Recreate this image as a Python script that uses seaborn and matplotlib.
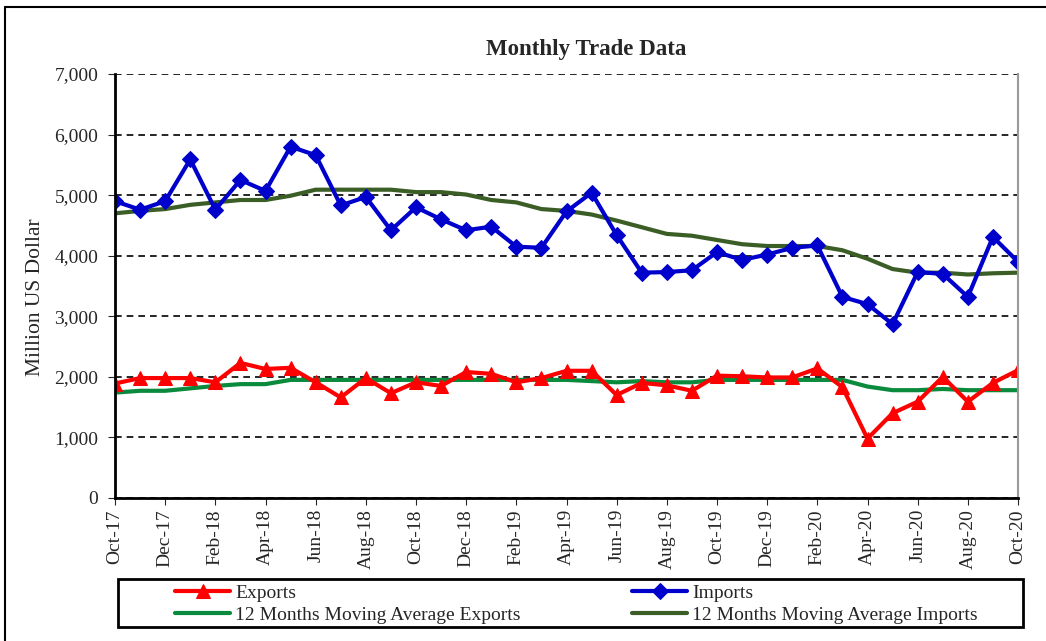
import numpy as np
import pandas as pd
import seaborn as sns
import matplotlib
matplotlib.use("Agg")
from matplotlib import pyplot as plt
from matplotlib.patches import Rectangle
from matplotlib.lines import Line2D

months = pd.date_range("2017-10-01", "2020-10-01", freq="MS").strftime("%b-%y").tolist()

exports = [1890, 1980, 1980, 1980, 1910, 2230, 2130, 2150, 1910, 1660, 1980, 1730,
           1910, 1850, 2080, 2050, 1910, 1980, 2100, 2100, 1700, 1900, 1860, 1770,
           2020, 2010, 1990, 1990, 2140, 1830, 980, 1400, 1590, 2000, 1590, 1900, 2110]
imports = [4900, 4760, 4900, 5590, 4760, 5250, 5070, 5800, 5660, 4830, 4970, 4420,
           4800, 4600, 4420, 4480, 4150, 4130, 4730, 5040, 4340, 3720, 3730, 3760,
           4060, 3930, 4020, 4130, 4170, 3320, 3200, 2870, 3730, 3700, 3320, 4310, 3900]
ma_exports = [1740, 1770, 1770, 1810, 1850, 1880, 1880, 1950, 1950, 1950, 1950, 1950,
              1950, 1950, 1950, 1950, 1950, 1950, 1950, 1930, 1910, 1930, 1910, 1910,
              1950, 1950, 1950, 1950, 1950, 1950, 1840, 1780, 1780, 1800, 1780, 1780, 1780]
ma_imports = [4700, 4740, 4770, 4840, 4880, 4920, 4920, 4990, 5090, 5090, 5090, 5090,
              5050, 5050, 5010, 4920, 4880, 4770, 4740, 4680, 4580, 4470, 4360, 4330,
              4260, 4190, 4160, 4160, 4160, 4090, 3950, 3780, 3720, 3720, 3690, 3710, 3720]

df = pd.DataFrame({"idx": range(len(months)), "month": months,
                   "Exports": exports, "Imports": imports,
                   "12 Months Moving Average Exports": ma_exports,
                   "12 Months Moving Average Imports": ma_imports})

sns.set_style("white")
plt.rcParams["font.family"] = ["Liberation Serif", "DejaVu Serif"]

W, H = 1046, 641
fig = plt.figure(figsize=(W / 100, H / 100), dpi=100)
ax = fig.add_axes([115 / W, 1 - 498 / H, 903 / W, 424 / H])

# moving averages first so the markers sit on top
sns.lineplot(data=df, x="idx", y="12 Months Moving Average Exports", ax=ax,
             color="#0a8a3c", linewidth=3, label="12 Months Moving Average Exports")
sns.lineplot(data=df, x="idx", y="12 Months Moving Average Imports", ax=ax,
             color="#3b5e27", linewidth=3, label="12 Months Moving Average Imports")
sns.lineplot(data=df, x="idx", y="Exports", ax=ax, color="#ff0000", linewidth=3,
             marker="^", markersize=10, markeredgecolor="#ff0000", label="Exports")
sns.lineplot(data=df, x="idx", y="Imports", ax=ax, color="#0000cc", linewidth=3,
             marker="D", markersize=8, markeredgecolor="#0000cc", label="Imports")

ax.set_xlim(0, len(months) - 1)
ax.set_ylim(0, 7000)
ax.set_yticks(range(0, 7001, 1000))
ax.set_yticklabels([f"{v:,}" for v in range(0, 7001, 1000)], fontsize=14)
ax.set_xticks(df["idx"][::2])
ax.set_xticklabels(df["month"][::2], rotation=90, fontsize=14)
ax.tick_params(axis="x", direction="out", length=5, bottom=True, pad=3)
ax.tick_params(axis="y", direction="out", length=5, left=True, pad=7)
ax.yaxis.grid(True, color="black", linestyle=(0, (4, 3)), linewidth=1.2)
ax.set_axisbelow(True)
ax.set_xlabel("")
ax.set_ylabel("Million US Dollar", fontsize=15.5)
ax.yaxis.set_label_coords(-0.077, 0.474)
ax.set_title("Monthly Trade Data", fontsize=16.5, fontweight="bold", x=0.522, y=1.0, pad=14)

for side in ["left", "bottom"]:
    ax.spines[side].set_color("black")
    ax.spines[side].set_linewidth(2)
ax.spines["top"].set_visible(False)
ax.spines["right"].set_color("#999999")
ax.spines["right"].set_linewidth(1.5)

handles, labels = ax.get_legend_handles_labels()
hd = dict(zip(labels, handles))
ax.legend_ = None

# legend: two columns drawn as two frameless legends inside one box
leg_kw = dict(loc="center left", fontsize=14, frameon=False, borderpad=0, borderaxespad=0,
              labelspacing=0.22, handlelength=2.85, handletextpad=0.25)
cols = [["Exports", "12 Months Moving Average Exports"],
        ["Imports", "12 Months Moving Average Imports"]]
xs = [175, 632]
for col, x0 in zip(cols, xs):
    leg = fig.legend([hd[c] for c in col], col, bbox_to_anchor=(x0 / W, 1 - 604 / H),
                     bbox_transform=fig.transFigure, **leg_kw)

fig.patches.append(Rectangle((118 / W, 1 - 627 / H), 905 / W, 48 / H, transform=fig.transFigure,
                             fill=False, edgecolor="black", linewidth=2))
fig.lines.append(Line2D([5 / W, 5 / W], [0, 1 - 7 / H], transform=fig.transFigure,
                        color="black", linewidth=1.5))
fig.lines.append(Line2D([5 / W, 1], [1 - 7 / H, 1 - 7 / H], transform=fig.transFigure,
                        color="black", linewidth=1.5))

fig.savefig("out.png", dpi=100)
